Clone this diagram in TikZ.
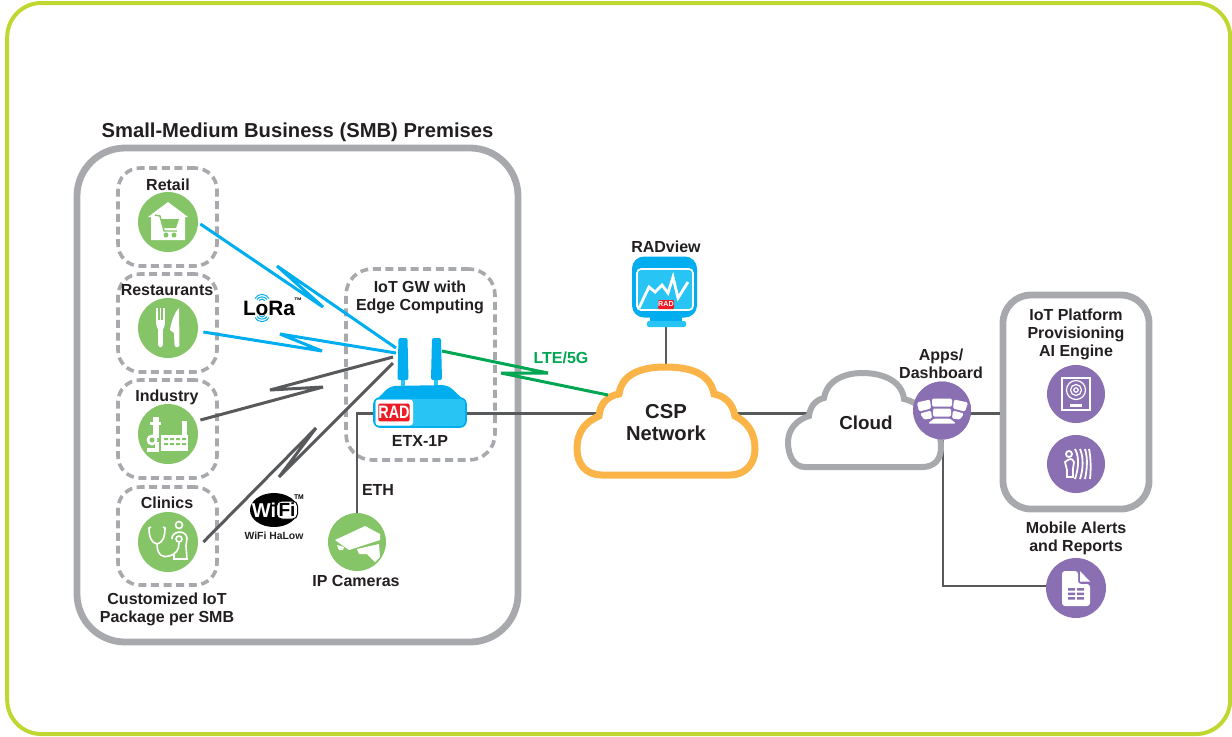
\documentclass[tikz,border=0pt]{standalone}
\usepackage{fontspec}
\usetikzlibrary{shapes.geometric}
\setmainfont{Liberation Sans}
\definecolor{frameLime}{HTML}{BFD730}
\definecolor{wallGray}{HTML}{A7A9AC}
\definecolor{wireGray}{HTML}{58595B}
\definecolor{labelInk}{HTML}{231F20}
\definecolor{iconGreen}{HTML}{85C567}
\definecolor{iconPurple}{HTML}{8A70B3}
\definecolor{loraBlue}{HTML}{00AEEF}
\definecolor{skyBlue}{HTML}{27C4F4}
\definecolor{lteGreen}{HTML}{00A651}
\definecolor{cspOrange}{HTML}{FBB447}
\definecolor{radRed}{HTML}{ED1C24}
\tikzset{
  wall/.style={draw=wallGray,line width=3.4pt,rounded corners=#1,fill=none},
  pack/.style={draw=wallGray,line width=1.8pt,dash pattern=on 4pt off 2.3pt,rounded corners=11pt},
  wire/.style={draw=wireGray,line width=1.4pt},
  lora/.style={draw=loraBlue,line width=1.5pt,line join=bevel},
  halow/.style={draw=wireGray,line width=1.5pt,line join=bevel},
  green icon/.style={circle,fill=iconGreen,minimum size=30pt,inner sep=0pt},
  purple icon/.style={circle,fill=iconPurple,minimum size=29pt,inner sep=0pt},
  lbl/.style={font=\bfseries\fontsize{8}{9}\selectfont,text=labelInk,align=center,inner sep=0pt},
  big lbl/.style={font=\bfseries\fontsize{10.1}{11}\selectfont,text=labelInk,align=center,inner sep=0pt},
  radtag/.style={fill=radRed,text=white,font=\bfseries\fontsize{#1}{#1}\selectfont,inner sep=0pt,rounded corners=0.6pt},
}
\begin{document}
\begin{tikzpicture}[x=0.5pt,y=-0.5pt]
\useasboundingbox (0,0) rectangle (1232,736);
% outer frame and the walls
\node[draw=frameLime,line width=2pt,rounded corners=17pt,minimum width=611.5pt,minimum height=365.5pt] (frame) at (618.7,368.5) {};
\node[wall=24pt,minimum width=220.5pt,minimum height=247pt] (smb) at (297.5,395) {};
\node[wall=14pt,minimum width=73pt,minimum height=107pt] (platform) at (1076,402) {};
\node[pack,minimum width=49.5pt,minimum height=49pt] (retailBox) at (167.5,217) {};
\node[pack,minimum width=49.5pt,minimum height=49pt] (restBox) at (167.5,323) {};
\node[pack,minimum width=49.5pt,minimum height=49pt] (indBox) at (167.5,429) {};
\node[pack,minimum width=49.5pt,minimum height=49pt] (clinBox) at (167.5,536) {};
\node[pack,rounded corners=13pt,minimum width=74.5pt,minimum height=95.5pt] (gwBox) at (420.5,364.5) {};
% the icons
\node[green icon] (retail) at (168,222) {};
\node[green icon] (rest) at (168,328) {};
\node[green icon] (ind) at (168,434) {};
\node[green icon] (clin) at (168,542) {};
\node[green icon,minimum size=29pt] (cam) at (357,542) {};
\node[purple icon] (apps) at (942,410.5) {};
\node[purple icon] (engine) at (1076,394) {};
\node[purple icon] (ai) at (1076,464) {};
\node[purple icon,minimum size=30pt] (doc) at (1076,588) {};
% named points of the lines
\coordinate (rail) at (0,413.5);
\coordinate (cspMid) at (666,420);
\coordinate (cloudMid) at (866,420);
\coordinate (radFoot) at (666,326);
\coordinate (docTurn) at (943,586);
\coordinate (r1) at (323,307);
\coordinate (r2) at (277,266);
\coordinate (r3) at (396,348);
\coordinate (s1) at (322,351);
\coordinate (s2) at (280,334);
\coordinate (s3) at (396,353);
\coordinate (i1) at (323,387);
\coordinate (i2) at (270,390);
\coordinate (i3) at (393,357);
\coordinate (c1) at (316,428);
\coordinate (c2) at (279,477);
\coordinate (c3) at (393,363);
\coordinate (l0) at (442,351);
\coordinate (l1) at (548,373);
\coordinate (l2) at (501,373);
\coordinate (l3) at (608,395);
% wires
\draw[wire] (radFoot) -- (cspMid);
\draw[wire] (cam.north) -- (cam.north |- rail) -- (cspMid |- rail);
\draw[wire] (cspMid |- rail) -- (cloudMid |- rail);
\draw[wire] (cloudMid |- rail) -- (platform.west |- rail);
\draw[wire] (apps.south -| docTurn) -- (docTurn) -- (doc.west |- docTurn);
% the two clouds
\draw[draw=cspOrange,line width=3.5pt,fill=white] (602,475) .. controls (585,475) and (577,463) .. (577,449)
  .. controls (577,432) and (585,422) .. (599,416) .. controls (600,403) and (608,396) .. (619,394)
  .. controls (622,372) and (645,367) .. (665,367) .. controls (690,367) and (710,373) .. (714,394)
  .. controls (725,396) and (733,404) .. (735,416) .. controls (747,422) and (755,432) .. (755,449)
  .. controls (755,464) and (745,475) .. (730,475) -- cycle;
\draw[draw=wallGray,line width=3pt,fill=white] (805,467) .. controls (794,467) and (788,456) .. (788,442)
  .. controls (788,430) and (796,420) .. (809,416) .. controls (810,407) and (815,400) .. (824,398)
  .. controls (827,380) and (845,373) .. (862,373) .. controls (885,373) and (902,382) .. (904,399)
  .. controls (925,404) and (941,425) .. (941,447) .. controls (941,460) and (934,467) .. (922,467) -- cycle;
\node[purple icon] at (apps) {};
% the zigzag radio links
\draw[lora] (retail.east) ++(2,2) -- (r1) -- (r2) -- (r3);
\draw[lora] (rest.east) ++(5,4) -- (s1) -- (s2) -- (s3);
\draw[halow] (ind.east) ++(2,-14) -- (i1) -- (i2) -- (i3);
\draw[halow] (clin.east) ++(5,0) -- (c1) -- (c2) -- (c3);
\draw[draw=lteGreen,line width=1.5pt,line join=bevel] (l0) -- (l1) -- (l2) -- (l3);
% ETX-1P
\fill[loraBlue,rounded corners=1pt] (398.5,338) -- (407.5,338) -- (408.5,380) -- (397.5,380) -- cycle;
\fill[loraBlue,rounded corners=1pt] (432,338) -- (441,338) -- (442,380) -- (431,380) -- cycle;
\fill[skyBlue] (401,380) rectangle (405,390);
\fill[skyBlue] (434,380) rectangle (438,390);
\fill[loraBlue,rounded corners=3pt] (372,404) -- (390,386) -- (448,385) -- (468,404) -- cycle;
\node[draw=loraBlue,fill=skyBlue,line width=0.8pt,rounded corners=3pt,minimum width=46pt,minimum height=14.5pt] (etx) at (420,412.5) {};
\fill[white,rounded corners=1.5pt] (375.5,399.5) -- (413,399.5) -- (413,425.5) -- (375.5,425.5) -- cycle;
\node[radtag=10,minimum width=15.5pt,minimum height=8.8pt] (radEtx) at (394,412.5) {\scalebox{0.72}[0.9]{RAD}};
% RADview
\fill[loraBlue] (650,316) rectangle (682,322);
\fill[skyBlue,rounded corners=1pt] (647,321) rectangle (686,327);
\node[fill=loraBlue,rounded corners=6pt,minimum width=32.5pt,minimum height=30.5pt,inner sep=0pt] (radview) at (664.5,287) {};
\node[draw=white,fill=skyBlue,line width=0.8pt,rounded corners=2pt,minimum width=28pt,minimum height=20.5pt,inner sep=0pt] (radScreen) at (665,289.5) {};
\draw[white,line width=1.4pt,line join=miter] (639,308) -- (649,287) -- (655,292) -- (662,285) -- (668,293) -- (673,277) -- (678,298) -- (688,282);
\node[radtag=3.6,minimum width=8pt,minimum height=4.5pt,inner sep=0pt] (radMon) at (666,304.5) {RAD};
% retail
\begin{scope}[shift={(168,222)}]
\fill[white] (0,-20) -- (20,-5) -- (17,-5) -- (17,18) -- (-17,18) -- (-17,-5) -- (-20,-5) -- cycle;
\draw[iconGreen,line width=0.7pt] (-13,-7) -- (-8,-6) -- (-4,9) -- (9,9);
\fill[iconGreen] (-7,-3) -- (11,-3) -- (8,6) -- (-4,6) -- cycle;
\fill[iconGreen] (-2,13) circle (2.5);
\fill[iconGreen] (6,13) circle (2.5);
\end{scope}
% restaurants
\begin{scope}[shift={(168,328)}]
\fill[white] (-12,-20) rectangle (-10.2,-7);
\fill[white] (-8.4,-20) rectangle (-6.6,-7);
\fill[white] (-4.8,-20) rectangle (-3,-7);
\fill[white] (-12,-8) -- (-3,-8) .. controls (-3,-2) and (-4,0) .. (-5.2,2) -- (-5.2,17) .. controls (-6,20) and (-9,20) .. (-9.8,17) -- (-9.8,2) .. controls (-11,0) and (-12,-2) .. (-12,-8) -- cycle;
\fill[white] (11,-20) .. controls (6,-15) and (3,-5) .. (2,2) -- (6,5) -- (6.5,17) .. controls (7,20) and (11,20) .. (11.5,17) -- cycle;
\end{scope}
% industry
\begin{scope}[shift={(168,434)}]
\fill[white] (-15,-17) rectangle (-9,4);
\fill[white] (-18,-12) rectangle (-7,-9);
\fill[white] (-16,6) circle (5.5);
\fill[iconGreen] (-16,6) circle (2.5);
\fill[white] (-21,14) rectangle (-9,18);
\fill[white] (-13,8) rectangle (-9,15);
\fill[white] (-7,1) rectangle (20,17);
\fill[white] (14,-13) rectangle (19,1);
\fill[iconGreen] (-4,4) rectangle (0,6) (2,4) rectangle (6,6) (8,4) rectangle (12,6) (14,4) rectangle (18,6);
\fill[iconGreen] (-4,9) rectangle (0,11) (2,9) rectangle (6,11) (8,9) rectangle (12,11) (14,9) rectangle (18,11);
\end{scope}
% clinics
\begin{scope}[shift={(168,542)},line width=0.8pt]
\draw[white] (-17,-15) -- (-19,-14) .. controls (-19,-6) and (-17,1) .. (-11,2) .. controls (-5,1) and (-3,-6) .. (-3,-14) -- (-5,-15);
\draw[white] (-11,2) .. controls (-11,14) and (-4,16) .. (1,14) .. controls (8,12) and (11,8) .. (11,1);
\draw[white] (11,-3) circle (3);
\draw[white] (11,-17) circle (3.5);
\draw[white] (4,-3) .. controls (3,-11) and (18,-13) .. (19,-4) -- (18,4) -- (19,17) -- (6,17) -- (6,12);
\end{scope}
% camera
\begin{scope}[shift={(357,542)}]
\fill[white] (-22,-2) -- (8,-16) -- (23,-8) -- (23,-2) -- (-8,8) -- cycle;
\fill[white] (-20,3) -- (-13,5) -- (-14,8) -- (-18,8) -- cycle;
\fill[white] (0,7) -- (22,2) -- (23,15) -- (18,20) -- (10,12) -- (2,12) -- cycle;
\end{scope}
% apps
\begin{scope}[shift={(942,410.5)},rounded corners=0.7pt]
\fill[white] (-25,-8) -- (-12,-11) -- (-11,-2) -- (-23,1) -- cycle;
\fill[white] (-10,-12) -- (10,-12) -- (10,-4) -- (-10,-4) -- cycle;
\fill[white] (12,-11) -- (26,-8) -- (23,1) -- (11,-2) -- cycle;
\fill[white] (-9,-2) -- (9,-2) -- (9,6) -- (-9,6) -- cycle;
\fill[white] (-22,3) -- (-11,0) -- (-10,8) -- (-18,9) -- cycle;
\fill[white] (11,0) -- (22,3) -- (18,9) -- (10,8) -- cycle;
\fill[white] (-14,13) -- (-8,8) -- (8,8) -- (14,13) -- cycle;
\end{scope}
% AI engine
\begin{scope}[shift={(1076,394)},line width=0.6pt]
\draw[white] (-14,-16) rectangle (14,16);
\draw[white] (0,-4) circle (9.5);
\draw[white] (0,-4) circle (5.5);
\draw[white] (0,-4) circle (2.2);
\fill[white] (-6,10) rectangle (6,12.5);
\end{scope}
% provisioning
\begin{scope}[shift={(1076,464)},white,line width=0.9pt]
\draw (-7,-10) circle (3);
\draw (-11,-2) .. controls (-6,-6) and (-4,-6) .. (-2,-2) -- (-3,5) -- (-3,13) -- (-9,13) -- (-9,6) -- cycle;
\draw (-1,-15) .. controls (4,-6) and (2,6) .. (-1,15);
\draw (4,-15) .. controls (8,-6) and (7,6) .. (4,15);
\draw (9,-15) .. controls (12,-6) and (11,6) .. (9,15);
\draw (13,-15) .. controls (15,-6) and (15,6) .. (14,15);
\end{scope}
% document
\begin{scope}[shift={(1076,588)}]
\fill[white,rounded corners=1.5pt] (-14,-17) -- (2,-17) -- (2,-4) -- (14,-4) -- (14,18) -- (-14,18) -- cycle;
\fill[white] (4,-17) -- (14,-6.5) -- (4,-6.5) -- cycle;
\fill[iconPurple] (-8,0) rectangle (-1,2.5) (1,0) rectangle (8,2.5);
\fill[iconPurple] (-8,4.5) rectangle (-1,7) (1,4.5) rectangle (8,7);
\fill[iconPurple] (-8,9) rectangle (-1,11.5) (1,9) rectangle (8,11.5);
\end{scope}
% LoRa mark
\node[font=\bfseries\fontsize{10.4}{11}\selectfont,text=black,inner sep=0pt] (loraText) at (269,308) {LoRa};
\node[font=\bfseries\fontsize{4}{4}\selectfont,text=black,inner sep=0pt] (loraTm) at (298,301) {™};
\draw[loraBlue,line width=0.5pt] (255,298.5) .. controls (258,293) and (266,293) .. (269,298.5);
\draw[loraBlue,line width=0.5pt] (257,299.5) .. controls (259,296) and (265,296) .. (267,299.5);
\draw[loraBlue,line width=0.5pt] (259,300.5) .. controls (261,298.5) and (263,298.5) .. (265,300.5);
\draw[loraBlue,line width=0.5pt] (255,317.5) .. controls (258,323) and (266,323) .. (269,317.5);
\draw[loraBlue,line width=0.5pt] (257,316.5) .. controls (259,320) and (265,320) .. (267,316.5);
\draw[loraBlue,line width=0.5pt] (259,315.5) .. controls (261,317.5) and (263,317.5) .. (265,315.5);
% WiFi mark
\node[ellipse,fill=black,minimum width=24pt,minimum height=17pt,inner sep=0pt] (wifiBlob) at (274,510) {};
\node[draw=black,fill=white,line width=0.5pt,rounded corners=2.5pt,minimum width=10.5pt,minimum height=9pt,inner sep=0pt] (wifiBox) at (287,510) {};
\node[font=\bfseries\fontsize{10}{10}\selectfont,text=white,inner sep=0pt] (wifiWi) at (264,510) {Wi};
\node[font=\bfseries\fontsize{9.5}{9.5}\selectfont,text=black,inner sep=0pt] (wifiFi) at (287,510) {Fi};
\node[font=\bfseries\fontsize{3.4}{4}\selectfont,text=black,inner sep=0pt] (wifiTm) at (299,497) {TM};
\node[font=\bfseries\fontsize{5.2}{6}\selectfont,text=labelInk,inner sep=0pt] (halowLbl) at (274,535.5) {WiFi HaLow};
% labels
\node[big lbl] (smbLbl) at (297.5,132) {Small-Medium Business (SMB) Premises};
\node[lbl] (retailLbl) at (168,184.5) {Retail};
\node[lbl] (restLbl) at (167,290.5) {Restaurants};
\node[lbl] (indLbl) at (167,397) {Industry};
\node[lbl] (clinLbl) at (167,503) {Clinics};
\node[lbl] (custLbl) at (167,609) {Customized IoT\\Package per SMB};
\node[lbl] (gwLbl) at (420,297.5) {IoT GW with\\Edge Computing};
\node[lbl] (etxLbl) at (420,440.5) {ETX-1P};
\node[lbl] (ethLbl) at (378,489.5) {ETH};
\node[lbl] (camLbl) at (356,581) {IP Cameras};
\node[lbl,text=lteGreen] (lteLbl) at (561,358) {LTE/5G};
\node[lbl] (radLbl) at (666,247) {RADview};
\node[big lbl] (cspLbl) at (666,423) {CSP\\Network};
\node[big lbl,font=\bfseries\fontsize{9.4}{10}\selectfont] (cloudLbl) at (866,423) {Cloud};
\node[lbl] (appsLbl) at (941,364) {Apps/\\Dashboard};
\node[lbl] (platLbl) at (1076,334.5) {IoT Platform\\Provisioning\\AI Engine};
\node[lbl] (mobLbl) at (1076,538) {Mobile Alerts\\and Reports};
\end{tikzpicture}
\end{document}
